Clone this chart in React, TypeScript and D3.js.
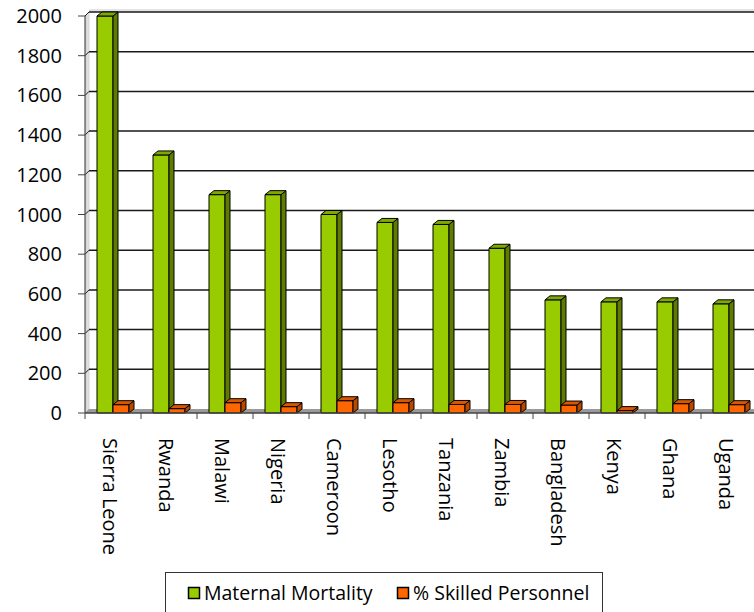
import React from 'react';
import * as d3 from 'd3';

const countries = ['Sierra Leone', 'Rwanda', 'Malawi', 'Nigeria', 'Cameroon', 'Lesotho', 'Tanzania', 'Zambia', 'Bangladesh', 'Kenya', 'Ghana', 'Uganda'];
const maternalMortality = [2000, 1300, 1100, 1100, 1000, 960, 950, 830, 570, 560, 560, 550];
const skilledPersonnel = [42, 22, 52, 32, 62, 52, 43, 43, 40, 12, 47, 42];
const seriesNames = ['Maternal Mortality', '% Skilled Personnel'];
const yTicks = [0, 200, 400, 600, 800, 1000, 1200, 1400, 1600, 1800, 2000];

const W = 754;
const H = 612;
const FONT = '"Open Sans", sans-serif';

const colors = [
  { front: '#99cc00', side: '#5e7d00', top: '#7fa800' },
  { front: '#ff6600', side: '#b84800', top: '#d95700' },
];

const App: React.FC = () => {
  const x0 = 85;
  const yBase = 413;
  const depth = { dx: 5, dy: 4 };
  const wall = { dx: 4, dy: 4 };

  const x = d3.scaleBand<string>().domain(countries).range([x0, x0 + 56 * countries.length]).paddingInner(0);
  const xs = d3.scaleBand<string>().domain(seriesNames).range([12, 44]);
  const y = d3.scaleLinear().domain([0, 2000]).range([yBase, 16]);

  const values = [maternalMortality, skilledPersonnel];

  const bar = (bx: number, bw: number, top: number, c: typeof colors[0], key: string) => {
    const { dx, dy } = depth;
    return (
      <g key={key} stroke="#000" strokeWidth={1} strokeLinejoin="round">
        <rect x={bx} y={top} width={bw} height={yBase - top} fill={c.front} />
        <polygon points={`${bx + bw},${top} ${bx + bw + dx},${top - dy} ${bx + bw + dx},${yBase - dy} ${bx + bw},${yBase}`} fill={c.side} />
        <polygon points={`${bx},${top} ${bx + dx},${top - dy} ${bx + bw + dx},${top - dy} ${bx + bw},${top}`} fill={c.top} />
      </g>
    );
  };

  return (
    <svg width={W} height={H} style={{ display: 'block', position: 'absolute', left: 0, top: 0 }} fontFamily={FONT}>
      <defs>
        <linearGradient id="lwall" x1="0" x2="1" y1="0" y2="0">
          <stop offset="0" stopColor="#c8c8c8" />
          <stop offset="1" stopColor="#eeeeee" />
        </linearGradient>
      </defs>
      <rect width={W} height={H} fill="#fff" />

      {/* back wall top edge */}
      <rect x={x0 + wall.dx} y={y(2000) - wall.dy - 3} width={W} height={3} fill="#e4e4e4" />
      {/* left wall */}
      <polygon
        points={`${x0},${y(2000)} ${x0 + wall.dx},${y(2000) - wall.dy} ${x0 + wall.dx},${yBase - wall.dy} ${x0},${yBase}`}
        fill="url(#lwall)" stroke="#aaa" strokeWidth={0.5}
      />
      {/* floor */}
      <polygon
        points={`${x0},${yBase} ${x0 + wall.dx},${yBase - wall.dy} ${W},${yBase - wall.dy} ${W},${yBase}`}
        fill="#9a9a9a"
      />

      {/* gridlines on back wall */}
      {yTicks.filter(t => t > 0).map(t => (
        <g key={t} stroke="#1a1a1a" strokeWidth={1.5}>
          <line x1={x0 + wall.dx} x2={W} y1={y(t) - wall.dy} y2={y(t) - wall.dy} />
          <line x1={x0} x2={x0 + wall.dx} y1={y(t)} y2={y(t) - wall.dy} strokeWidth={1} />
        </g>
      ))}

      {/* bars */}
      {countries.map((c, i) => (
        <g key={c}>
          {seriesNames.map((s, j) => bar((x(c) ?? 0) + (xs(s) ?? 0), xs.bandwidth(), y(values[j][i]), colors[j], s))}
        </g>
      ))}

      {/* y axis */}
      <line x1={x0} x2={x0} y1={y(2000)} y2={yBase} stroke="#444" strokeWidth={1} />
      {yTicks.map(t => (
        <g key={t}>
          <line x1={x0 - 7} x2={x0} y1={y(t)} y2={y(t)} stroke="#444" strokeWidth={1} />
          <text x={62} y={y(t)} dy="0.35em" textAnchor="end" fontSize={20} fill="#000">{t}</text>
        </g>
      ))}

      {/* x axis */}
      <line x1={x0} x2={W} y1={yBase} y2={yBase} stroke="#444" strokeWidth={1.5} />
      {countries.map(c => (
        <line key={c} x1={x(c)} x2={x(c)} y1={yBase} y2={yBase + 6} stroke="#444" strokeWidth={1} />
      ))}
      {countries.map(c => {
        const cx = (x(c) ?? 0) + x.bandwidth() / 2 - 3;
        return (
          <text key={c} transform={`translate(${cx},438) rotate(90)`} dy="0.35em" fontSize={20} fill="#000">{c}</text>
        );
      })}

      {/* legend */}
      <rect x={165.5} y={572.5} width={437} height={40} fill="#fff" stroke="#333" strokeWidth={1} />
      {seriesNames.map((s, j) => {
        const lx = j === 0 ? 188 : 397;
        return (
          <g key={s}>
            <rect x={lx + 0.5} y={587.5} width={11} height={11} fill={colors[j].front} stroke="#000" strokeWidth={1.5} />
            <text x={lx + 16} y={593} dy="0.35em" fontSize={19.5} fill="#000">{s}</text>
          </g>
        );
      })}
    </svg>
  );
};

export default App;
